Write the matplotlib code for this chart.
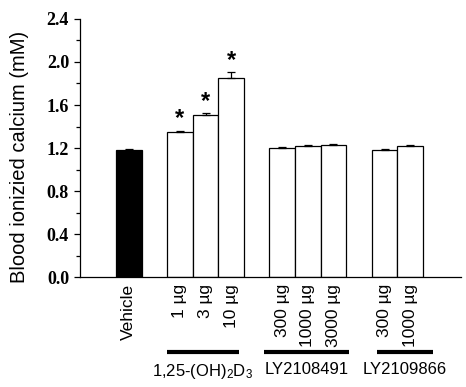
import numpy as np
import matplotlib
matplotlib.use("Agg")
import matplotlib.pyplot as plt
from matplotlib.transforms import blended_transform_factory

plt.rcParams['font.family'] = 'Liberation Sans'
plt.rcParams['mathtext.fontset'] = 'custom'
plt.rcParams['mathtext.rm'] = 'Liberation Sans'
plt.rcParams['mathtext.it'] = 'Liberation Sans'

# data
labels = ['Vehicle', '1 µg', '3 µg', '10 µg', '300 µg', '1000 µg', '3000 µg', '300 µg', '1000 µg']
values = [1.18, 1.35, 1.51, 1.85, 1.20, 1.22, 1.23, 1.18, 1.22]
errors = [0.008, 0.01, 0.012, 0.055, 0.01, 0.01, 0.01, 0.008, 0.01]
significant = [False, True, True, True, False, False, False, False, False]
groups = [r'1,25-(OH)$_2$D$_3$', 'LY2108491', 'LY2109866']
group_spans = [(1.5, 4.3), (5.3, 8.6), (9.7, 11.9)]

# bar slots (gap of one bar between groups)
positions = [0, 2, 3, 4, 6, 7, 8, 10, 11]
colors = ['black'] + ['white'] * 8

fig = plt.figure(figsize=(4.66, 3.87), dpi=100)
ax = fig.add_axes([0.172, 0.284, 0.818, 0.667])

ax.bar(positions, values, width=1.0, color=colors, edgecolor='black', linewidth=0.9, zorder=2)
ax.errorbar(positions, values, yerr=[np.zeros(len(errors)), errors], fmt='none',
            ecolor='black', elinewidth=0.9, capsize=3, capthick=0.9, zorder=3)

for p, v, e, s in zip(positions, values, errors, significant):
    if s:
        ax.text(p, v + e + 0.005, '*', ha='center', va='bottom', fontsize=17,
                fontweight='bold', family='Liberation Sans')

ax.set_xlim(-1.9, 13.0)
ax.set_ylim(0, 2.4)
ax.set_yticks(np.arange(0, 2.41, 0.4))
ax.set_yticks(np.arange(0.2, 2.4, 0.4), minor=True)
ax.set_yticklabels([f'{t:.1f}' for t in np.arange(0, 2.41, 0.4)],
                   family='Liberation Serif', fontweight='bold', fontsize=13)
ax.tick_params(axis='y', which='major', direction='out', length=4, width=0.9, pad=4)
ax.tick_params(axis='y', which='minor', direction='out', length=3, width=0.9)

ax.set_xticks(positions)
ax.set_xticklabels(labels, rotation=90, fontsize=12.5)
ax.tick_params(axis='x', length=0, pad=5)

ax.spines['top'].set_visible(False)
ax.spines['right'].set_visible(False)
ax.spines['left'].set_linewidth(0.9)
ax.spines['bottom'].set_linewidth(0.9)

ax.set_ylabel('Blood ionizied calcium (mM)', fontsize=14.5)
ax.yaxis.set_label_coords(-0.133, 0.465)

trans = blended_transform_factory(ax.transData, ax.transAxes)
for name, (x0, x1) in zip(groups, group_spans):
    ax.plot([x0, x1], [-0.29, -0.29], color='black', linewidth=3,
            transform=trans, clip_on=False, solid_capstyle='butt')
    ax.text((x0 + x1) / 2, -0.33, name, transform=trans, ha='center', va='top',
            fontsize=12)

fig.savefig('out.png', dpi=100)
